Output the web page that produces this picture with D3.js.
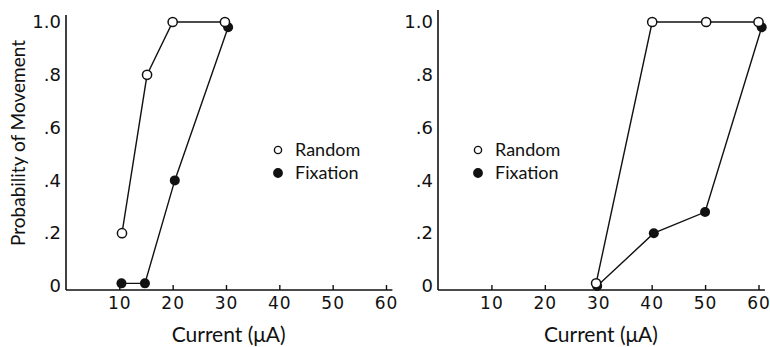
<!DOCTYPE html>
<html>
<head>
<meta charset="utf-8">
<script src="https://cdn.jsdelivr.net/npm/d3@7"></script>
<style>
  body { margin: 0; background: #fff; }
  text { fill: #111; }
</style>
</head>
<body>
<script>
// panel data: [current (uA), probability]
var leftRandom = [[10.5, 0.2], [15.2, 0.8], [20, 1.0], [29.8, 1.0]];
var leftFixation = [[10.4, 0.01], [14.8, 0.01], [20.4, 0.4], [30.4, 0.98]];
var rightRandom = [[29.6, 0.01], [40.1, 1.0], [50.2, 1.0], [60, 1.0]];
var rightFixation = [[29.8, 0.0], [40.4, 0.2], [50, 0.28], [60.6, 0.98]];

var xTicks = [10, 20, 30, 40, 50, 60];
var yTicks = [0, 0.2, 0.4, 0.6, 0.8, 1.0];
var legendLabels = ["Random", "Fixation"];

var w = 770;
var h = 347;
var labelFont = "Lato, sans-serif";
var numFont = "'DejaVu Sans', sans-serif";

var svg = d3.select("body")
    .append("svg")
    .attr("width", w)
    .attr("height", h);

var yScale = d3.scaleLinear()
    .domain([0, 1])
    .range([286, 22]);

function yFormat(d) {
    if (d === 0) return "0";
    if (d === 1) return "1.0";
    return d3.format(".1f")(d).replace(/^0/, "");
}

function drawPanel(x0, x1, random, fixation, legendX, yTop) {
    var xScale = d3.scaleLinear()
        .domain([0, 60])
        .range([x0, x1]);

    var g = svg.append("g");

    // axis lines
    g.append("line")
        .attr("x1", xScale(0)).attr("x2", xScale(0))
        .attr("y1", 290).attr("y2", yTop)
        .attr("stroke", "#111").attr("stroke-width", 1.6);

    var xAxis = d3.axisBottom(xScale)
        .tickValues(xTicks)
        .tickSizeInner(-5)
        .tickSizeOuter(0)
        .tickPadding(7)
        .tickFormat(d3.format("d"));

    var xa = g.append("g")
        .attr("transform", "translate(0,290)")
        .call(xAxis);
    xa.select(".domain").remove();
    xa.selectAll("line").attr("stroke", "#111").attr("stroke-width", 1.4);
    xa.selectAll("text")
        .style("font-size", "17px")
        .style("font-family", numFont)
        .style("letter-spacing", "1px")
        .attr("fill", "#111");

    g.append("line")
        .attr("x1", xScale(0)).attr("x2", xScale(61.2))
        .attr("y1", 290).attr("y2", 290)
        .attr("stroke", "#111").attr("stroke-width", 1.6);

    var yAxis = d3.axisLeft(yScale)
        .tickValues(yTicks)
        .tickSize(0)
        .tickPadding(5)
        .tickFormat(yFormat);

    var ya = g.append("g")
        .attr("transform", "translate(" + xScale(0) + ",0)")
        .call(yAxis);
    ya.select(".domain").remove();
    ya.selectAll("text")
        .style("font-size", "18px")
        .style("font-family", numFont)
        .attr("fill", "#111");

    g.append("text")
        .attr("x", xScale(30.5))
        .attr("y", 342)
        .attr("text-anchor", "middle")
        .style("font-family", labelFont)
        .style("font-size", "21px")
        .text("Current (\u03bcA)");

    var line = d3.line()
        .x(function(d) { return xScale(d[0]); })
        .y(function(d) { return yScale(d[1]); });

    [random, fixation].forEach(function(series) {
        g.append("path")
            .datum(series)
            .attr("d", line)
            .attr("fill", "none")
            .attr("stroke", "#111")
            .attr("stroke-width", 1.4);
    });

    g.selectAll("circle.fix")
        .data(fixation)
        .enter()
        .append("circle")
        .attr("class", "fix")
        .attr("cx", function(d) { return xScale(d[0]); })
        .attr("cy", function(d) { return yScale(d[1]); })
        .attr("r", 5)
        .attr("fill", "#111");

    g.selectAll("circle.rnd")
        .data(random)
        .enter()
        .append("circle")
        .attr("class", "rnd")
        .attr("cx", function(d) { return xScale(d[0]); })
        .attr("cy", function(d) { return yScale(d[1]); })
        .attr("r", 4.6)
        .attr("fill", "#fff")
        .attr("stroke", "#111")
        .attr("stroke-width", 1.5);

    // legend
    var leg = g.selectAll(".legend-item")
        .data(legendLabels)
        .enter()
        .append("g")
        .attr("class", "legend-item")
        .attr("transform", function(d, i) { return "translate(" + legendX + "," + (150 + i * 23) + ")"; });

    leg.append("circle")
        .attr("r", function(d, i) { return i === 0 ? 3.6 : 4.2; })
        .attr("fill", function(d, i) { return i === 0 ? "#fff" : "#111"; })
        .attr("stroke", "#111")
        .attr("stroke-width", 1.4);

    leg.append("text")
        .attr("x", 17)
        .attr("dy", "0.35em")
        .style("font-family", labelFont)
        .style("font-size", "18px")
        .text(function(d) { return d; });
}

drawPanel(66, 386, leftRandom, leftFixation, 278, 15);
drawPanel(438, 758.5, rightRandom, rightFixation, 478, 10);

svg.append("text")
    .attr("transform", "translate(25,143) rotate(-90)")
    .attr("text-anchor", "middle")
    .style("font-family", labelFont)
    .style("font-size", "19px")
    .text("Probability of Movement");
</script>
</body>
</html>
